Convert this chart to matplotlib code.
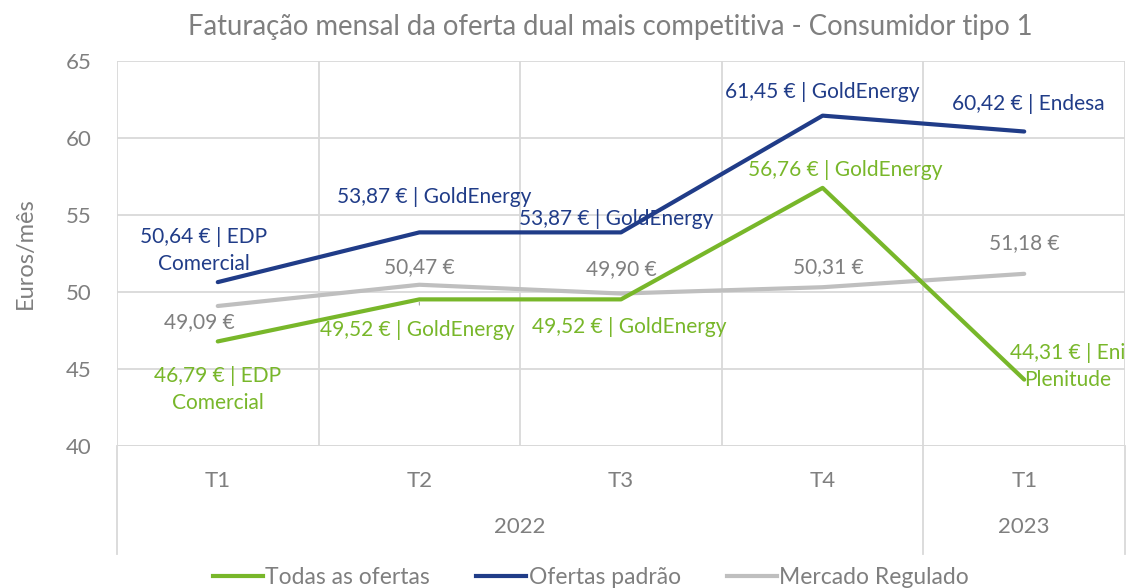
import matplotlib.pyplot as plt
from matplotlib.lines import Line2D

plt.rcParams['font.family'] = ['Lato', 'DejaVu Sans']

quarters = ['T1', 'T2', 'T3', 'T4', 'T1']
years = ['2022', '2023']
year_spans = [(0, 3), (4, 4)]

todas = [46.79, 49.52, 49.52, 56.76, 44.31]
padrao = [50.64, 53.87, 53.87, 61.45, 60.42]
regulado = [49.09, 50.47, 49.90, 50.31, 51.18]

lbl_todas = ['46,79 € | EDP\nComercial', '49,52 € | GoldEnergy', '49,52 € | GoldEnergy',
             '56,76 € | GoldEnergy', '44,31 € | Eni\nPlenitude']
lbl_padrao = ['50,64 € | EDP\nComercial', '53,87 € | GoldEnergy', '53,87 € | GoldEnergy',
              '61,45 € | GoldEnergy', '60,42 € | Endesa']
lbl_regulado = ['49,09 €', '50,47 €', '49,90 €', '50,31 €', '51,18 €']

green = '#78B72A'
navy = '#203C88'
grey_line = '#BFBFBF'
grey_txt = '#7F7F7F'
grid_c = '#D9D9D9'

# label offsets in pixels (dx, dy up)
off_todas = [(0, -48), (-2, -31), (8, -28), (23, 18), (43, 13)]
off_padrao = [(-14, 32), (15, 35), (-5, 13), (0, 24), (4, 28)]
off_regulado = [(-18, -16), (0, 18), (0, 24), (6, 20), (0, 31)]

fig = plt.figure(figsize=(11.3, 5.88), dpi=100)
ax = fig.add_axes([0.1035, 0.2415, 0.8921, 0.6548])

x = list(range(len(quarters)))
ax.plot(x, regulado, color=grey_line, lw=3, solid_capstyle='round', zorder=3)
ax.plot(x, todas, color=green, lw=3, solid_capstyle='round', zorder=4)
ax.plot(x, padrao, color=navy, lw=3, solid_capstyle='round', zorder=5)

for vals, lbls, offs, col in [(regulado, lbl_regulado, off_regulado, grey_txt),
                               (todas, lbl_todas, off_todas, green),
                               (padrao, lbl_padrao, off_padrao, navy)]:
    for i, (v, t, o) in enumerate(zip(vals, lbls, offs)):
        ax.annotate(t, (i, v), xytext=o, textcoords='offset pixels',
                    ha='center', va='center', multialignment='center',
                    color=col, fontsize=15, zorder=6, linespacing=1.45)

# small leader line for T2 label
ax.annotate('', (1, todas[1]), xytext=(1, todas[1] - 0.55),
            arrowprops=dict(arrowstyle='-', color='#A6A6A6', lw=0.8))

ax.set_xlim(-0.5, len(quarters) - 0.5)
ax.set_ylim(40, 65)
ax.set_yticks(range(40, 66, 5))
ax.set_xticks([i + 0.5 for i in range(-1, len(quarters))], minor=False)
ax.set_xticklabels([])
ax.tick_params(axis='both', length=0, labelsize=16, colors=grey_txt)
ax.tick_params(axis='y', pad=18)
ax.grid(True, color=grid_c, lw=1.3)
ax.set_axisbelow(True)
for s in ax.spines.values():
    s.set_visible(False)
ax.axhline(40, color=grid_c, lw=1.3, zorder=1)

trans = ax.get_xaxis_transform()
for i, q in enumerate(quarters):
    ax.text(i, -0.09, q, transform=trans, ha='center', va='center',
            fontsize=16, color=grey_txt)
for (a, b), yr in zip(year_spans, years):
    ax.text((a + b) / 2, -0.21, yr, transform=trans, ha='center', va='center',
            fontsize=16, color=grey_txt)
for xs in [-0.5, 3.5, 4.5]:
    ax.plot([xs, xs], [0, -0.28], transform=trans, color=grid_c, lw=1.3, clip_on=False)

ax.set_ylabel('Euros/mês', fontsize=17, color=grey_txt, labelpad=22)
fig.text(0.54, 0.954, 'Faturação mensal da oferta dual mais competitiva - Consumidor tipo 1',
         fontsize=19.8, color=grey_txt, ha='center', va='center')

handles = [Line2D([], [], color=green, lw=3),
           Line2D([], [], color=navy, lw=3),
           Line2D([], [], color=grey_line, lw=3)]
leg = fig.legend(handles, ['Todas as ofertas', 'Ofertas padrão', 'Mercado Regulado'],
                 loc='center', bbox_to_anchor=(0.523, 0.018), ncol=3, frameon=False,
                 fontsize=16.5, handlelength=2.2, handletextpad=0.1, columnspacing=2.0)
for t in leg.get_texts():
    t.set_color(grey_txt)

fig.savefig('out.png', dpi=100)
